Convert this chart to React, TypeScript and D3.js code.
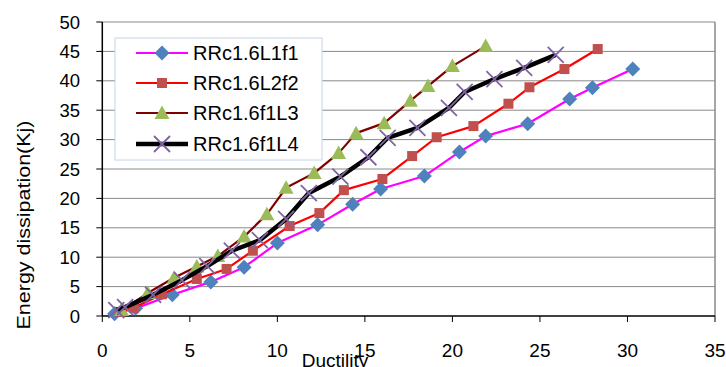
import React from 'react';
import * as d3 from 'd3';

// values
const seriesNames = ['RRc1.6L1f1', 'RRc1.6L2f2', 'RRc1.6f1L3', 'RRc1.6f1L4'];

const l1f1: [number, number][] = [
  [0.7, 0.4], [1.9, 1.3], [4.0, 3.6], [6.2, 5.8], [8.1, 8.3], [10.0, 12.4],
  [12.3, 15.5], [14.3, 19.0], [15.9, 21.6], [18.4, 23.8], [20.4, 27.9],
  [21.9, 30.6], [24.3, 32.7], [26.7, 36.9], [28.0, 38.8], [30.3, 42.0],
];
const l2f2: [number, number][] = [
  [1.0, 0.7], [1.8, 1.4], [3.4, 3.7], [5.4, 6.3], [7.1, 8.0], [8.6, 11.1],
  [10.7, 15.3], [12.4, 17.5], [13.8, 21.4], [16.0, 23.3], [17.7, 27.2],
  [19.1, 30.4], [21.2, 32.3], [23.2, 36.1], [24.4, 38.9], [26.4, 42.0], [28.3, 45.4],
];
const f1l3: [number, number][] = [
  [1.1, 1.0], [2.6, 3.9], [4.1, 6.5], [5.4, 8.4], [6.6, 10.2], [8.1, 13.5],
  [9.4, 17.3], [10.5, 21.8], [12.1, 24.3], [13.5, 27.7], [14.5, 31.1],
  [16.1, 32.8], [17.6, 36.6], [18.6, 39.1], [20.0, 42.5], [21.9, 45.9],
];
const f1l4: [number, number][] = [
  [0.8, 1.0], [1.3, 1.5], [2.9, 3.6], [4.55, 6.1], [6.0, 8.5], [7.4, 11.1],
  [9.0, 12.9], [10.5, 16.5], [11.8, 20.9], [13.6, 23.7], [15.2, 27.0],
  [16.3, 30.3], [18.0, 32.0], [19.8, 35.4], [20.7, 38.1], [22.4, 40.3],
  [24.1, 42.2], [25.9, 44.4],
];

const xTicks = [0, 5, 10, 15, 20, 25, 30, 35];
const yTicks = [0, 5, 10, 15, 20, 25, 30, 35, 40, 45, 50];

const styles = [
  { line: '#ff00ff', width: 2.2, marker: 'diamond', fill: '#4f81bd' },
  { line: '#ff0000', width: 2.2, marker: 'square', fill: '#c0504d' },
  { line: '#800000', width: 2.2, marker: 'triangle', fill: '#9bbb59' },
  { line: '#000000', width: 4.5, marker: 'x', fill: '#8064a2' },
];

const margin = { top: 22, right: 11, bottom: 51, left: 102.3 };
const W = 726;
const H = 367;

function Marker({ kind, x, y, fill }: { kind: string; x: number; y: number; fill: string }) {
  if (kind === 'diamond') {
    const r = 7.5;
    return <path d={`M${x},${y - r}L${x + r},${y}L${x},${y + r}L${x - r},${y}Z`} fill={fill} />;
  }
  if (kind === 'square') {
    const r = 5;
    return <rect x={x - r} y={y - r} width={r * 2} height={r * 2} fill={fill} />;
  }
  if (kind === 'triangle') {
    const r = 7.5;
    return <path d={`M${x},${y - r}L${x + r},${y + r * 0.8}L${x - r},${y + r * 0.8}Z`} fill={fill} />;
  }
  const r = 8;
  return (
    <path
      d={`M${x - r},${y - r}L${x + r},${y + r}M${x - r},${y + r}L${x + r},${y - r}`}
      stroke={fill}
      strokeWidth={1.8}
      fill="none"
    />
  );
}

export default function App() {
  const x = d3.scaleLinear().domain([0, 35]).range([margin.left, W - margin.right]);
  const y = d3.scaleLinear().domain([0, 50]).range([H - margin.bottom, margin.top]);
  const line = d3.line<[number, number]>().x(d => x(d[0])).y(d => y(d[1]));
  const allSeries = [l1f1, l2f2, f1l3, f1l4];
  const font = '"Liberation Sans", Arial, sans-serif';

  return (
    <svg
      width={W}
      height={H}
      style={{ position: 'absolute', left: 0, top: 0, background: '#fff', fontFamily: font }}
    >
      {/* gridlines */}
      {yTicks.slice(1).map(t => (
        <line key={t} x1={x(0)} x2={x(35)} y1={y(t)} y2={y(t)} stroke="#8a8a8a" strokeWidth={1} />
      ))}
      {/* plot border right */}
      <line x1={x(35)} x2={x(35)} y1={y(50)} y2={y(0)} stroke="#8a8a8a" strokeWidth={1.5} />
      {/* axes */}
      <line x1={x(0)} x2={x(0)} y1={y(50)} y2={y(0)} stroke="#000" strokeWidth={1.5} />
      <line x1={x(0)} x2={x(35)} y1={y(0)} y2={y(0)} stroke="#000" strokeWidth={1.5} />
      {yTicks.map(t => (
        <g key={t}>
          <line x1={x(0) - 6} x2={x(0)} y1={y(t)} y2={y(t)} stroke="#000" />
          <text x={80} y={y(t)} dy="0.36em" textAnchor="end" fontSize={18.5} fill="#000">
            {t}
          </text>
        </g>
      ))}
      {xTicks.map(t => (
        <g key={t}>
          <line x1={x(t)} x2={x(t)} y1={y(0)} y2={y(0) + 6} stroke="#000" />
          <text x={x(t)} y={357} textAnchor="middle" fontSize={19} fill="#000">
            {t}
          </text>
        </g>
      ))}
      {/* series */}
      {allSeries.map((s, i) => (
        <g key={i}>
          <path d={line(s) || ''} fill="none" stroke={styles[i].line} strokeWidth={styles[i].width} strokeLinejoin="round" />
          {s.map((d, j) => (
            <Marker key={j} kind={styles[i].marker} x={x(d[0])} y={y(d[1])} fill={styles[i].fill} />
          ))}
        </g>
      ))}
      {/* axis titles */}
      <text x={335} y={367} textAnchor="middle" fontSize={19} fill="#000">
        Ductility
      </text>
      <text
        transform={`translate(30,${225}) rotate(-90)`}
        textAnchor="middle"
        fontSize={18}
        fill="#000"
        textLength={209}
        lengthAdjust="spacingAndGlyphs"
      >
        Energy dissipation(Kj)
      </text>
      {/* legend */}
      <rect x={115} y={38} width={207} height={122} fill="#fff" stroke="#c8d4e3" strokeWidth={1} />
      {seriesNames.map((name, i) => {
        const ly = [53, 83, 113, 144][i];
        return (
          <g key={name}>
            <line x1={136} x2={188} y1={ly} y2={ly} stroke={styles[i].line} strokeWidth={styles[i].width} />
            <Marker kind={styles[i].marker} x={162} y={ly} fill={styles[i].fill} />
            <text x={193} y={ly} dy="0.36em" fontSize={20} fill="#000">
              {name}
            </text>
          </g>
        );
      })}
    </svg>
  );
}
